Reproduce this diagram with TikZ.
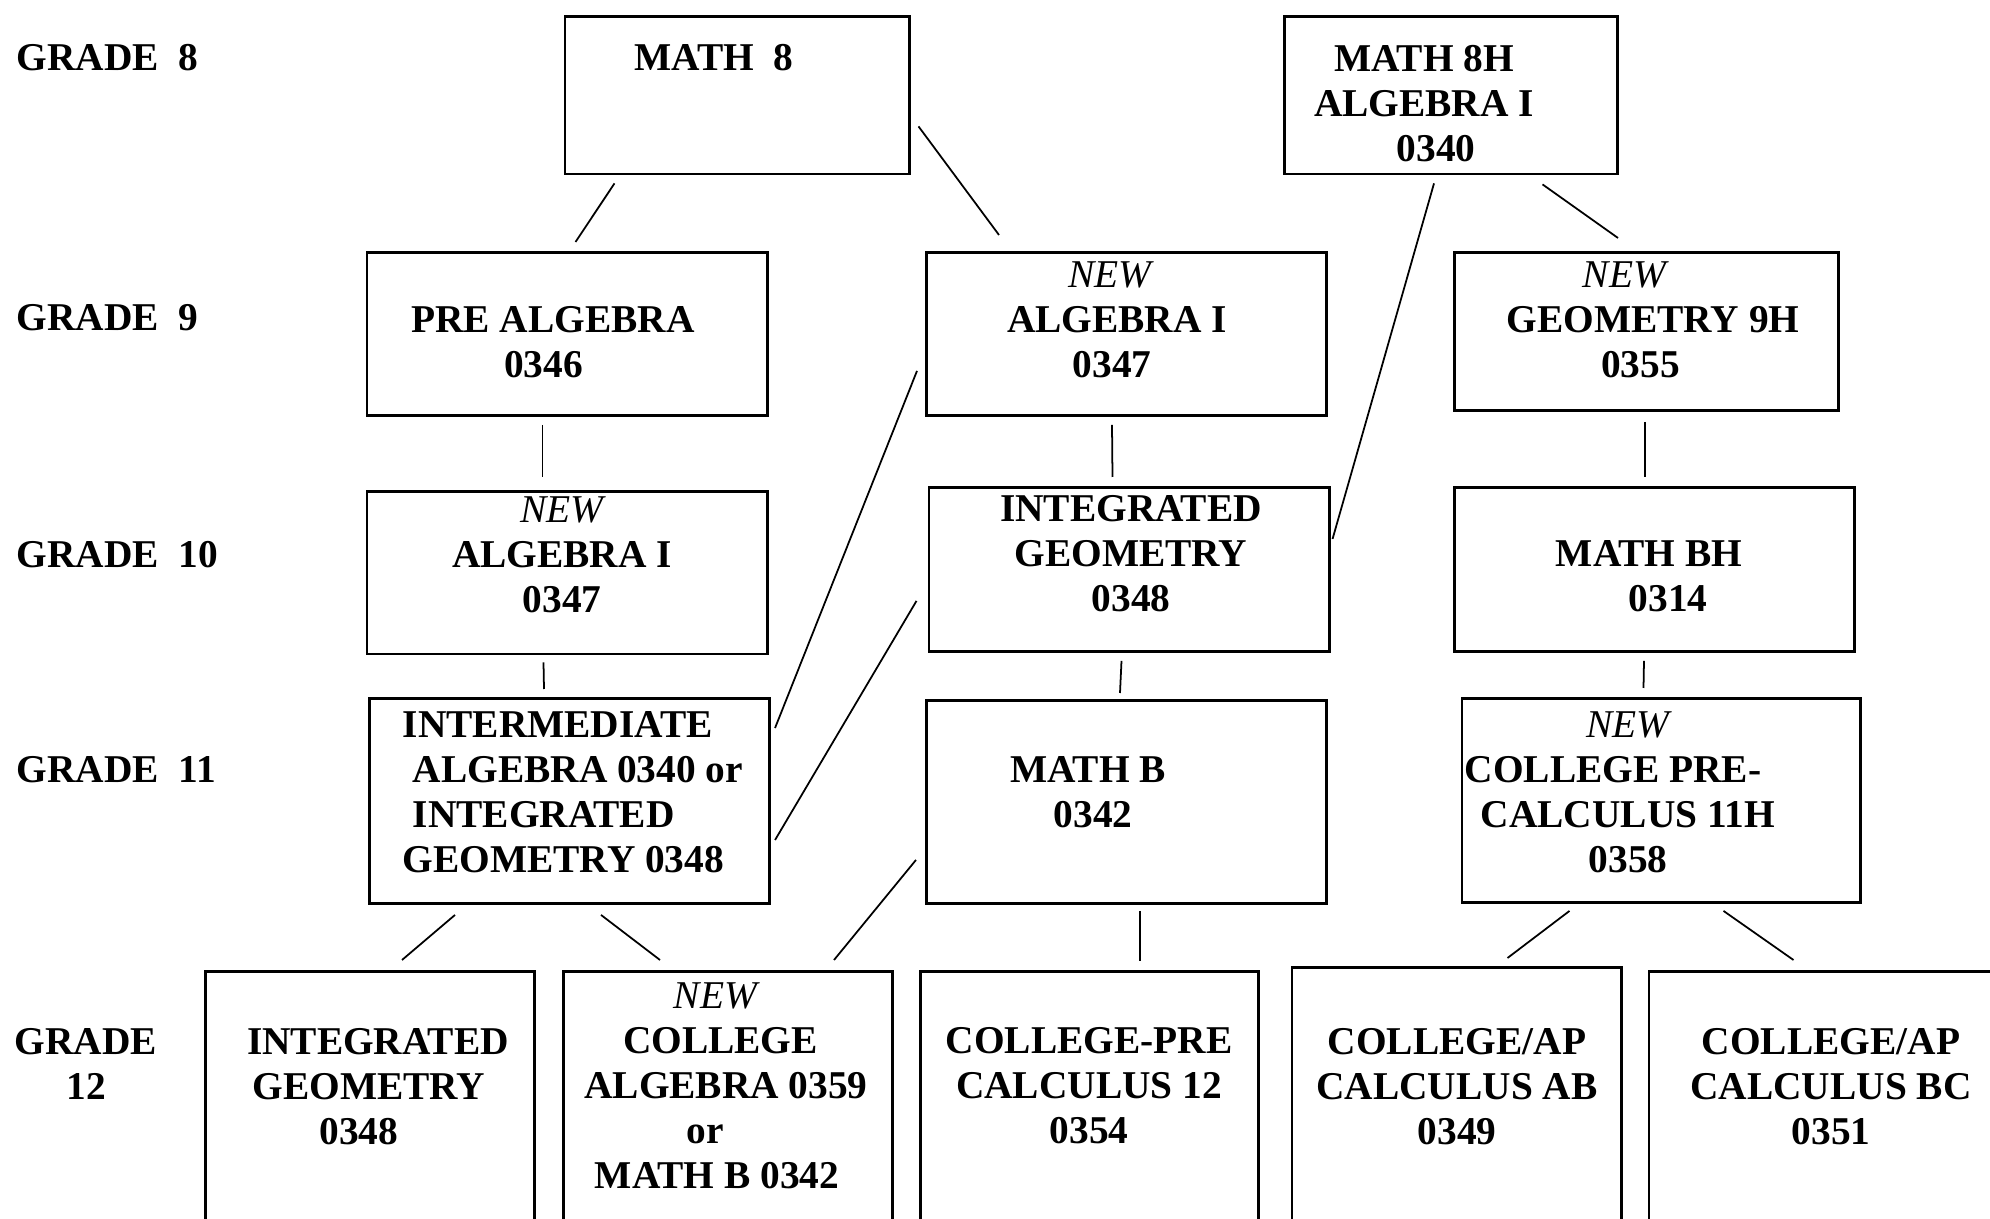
\documentclass[tikz,border=0pt]{standalone}
\usepackage{fontspec}
\setmainfont{Liberation Serif}
\usetikzlibrary{calc}

\begin{document}
\begin{tikzpicture}[
  x=0.01cm, y=-0.01cm,
  course/.style={draw, line width=0.8pt, anchor=north west, inner sep=0pt},
  coursetext/.style={align=center, inner sep=0pt, font=\fontsize{11.2}{12.8}\selectfont\bfseries},
  gradetext/.style={coursetext, align=left, anchor=west},
  link/.style={line width=0.5pt}
]
\useasboundingbox (0,0) rectangle (1990,1219);
\clip (0,0) rectangle (1990,1219);

% grade labels
\node[gradetext] (g8) at (16,58) {GRADE\ \ 8};
\node[gradetext] (g9) at (16,318) {GRADE\ \ 9};
\node[gradetext] (g10) at (16,555) {GRADE\ \ 10};
\node[gradetext] (g11) at (16,770) {GRADE\ \ 11};
\node[coursetext] (g12) at (86,1064) {GRADE\\12};

% course boxes
\node[course, minimum width=3.44cm, minimum height=1.575cm] (m8) at (563.5,15) {};
\node[course, minimum width=3.325cm, minimum height=1.575cm] (m8h) at (1283,15) {};
\node[course, minimum width=4cm, minimum height=1.63cm] (prealg) at (365.5,251) {};
\node[course, minimum width=4cm, minimum height=1.63cm] (algnine) at (925,251) {};
\node[course, minimum width=3.835cm, minimum height=1.58cm] (geonine) at (1453,251) {};
\node[course, minimum width=4cm, minimum height=1.625cm] (algten) at (365.5,490) {};
\node[course, minimum width=4cm, minimum height=1.64cm] (intgeo) at (927.5,486) {};
\node[course, minimum width=4cm, minimum height=1.64cm] (mathbh) at (1453,486) {};
\node[course, minimum width=4cm, minimum height=2.05cm] (inter) at (368,697) {};
\node[course, minimum width=4cm, minimum height=2.03cm] (mathb) at (925,699) {};
\node[course, minimum width=3.985cm, minimum height=2.04cm] (precalc) at (1460.5,697) {};
\node[course, minimum width=3.29cm, minimum height=3cm] (intgeotw) at (204,970) {};
\node[course, minimum width=3.29cm, minimum height=3cm] (collalg) at (562,970) {};
\node[course, minimum width=3.375cm, minimum height=3cm] (precalctw) at (919,970) {};
\node[course, minimum width=3.29cm, minimum height=3cm] (calcab) at (1290.5,966) {};
\node[course, minimum width=4.52cm, minimum height=3cm] (calcbc) at (1647.5,970) {};

% course titles
\node[coursetext] (m8-txt) at (714,58) {MATH\ \ 8};
\node[coursetext] (m8h-txt) at (1424,104) {MATH 8H\\ALGEBRA I\\\hspace*{0.24cm}0340};
\node[coursetext] (prealg-txt) at (553,342) {PRE ALGEBRA\\0346\hspace*{0.19cm}\null};
\node[coursetext] (algnine-txt) at (1117,320) {{\mdseries\itshape NEW}\hspace*{0.14cm}\null\\ALGEBRA I\\0347\hspace*{0.1cm}\null};
\node[coursetext] (geonine-txt) at (1653,320) {{\mdseries\itshape NEW}\hspace*{0.57cm}\null\\GEOMETRY 9H\\0355\hspace*{0.25cm}\null};
\node[coursetext] (algten-txt) at (562,555) {{\mdseries\itshape NEW}\\ALGEBRA I\\0347};
\node[coursetext] (intgeo-txt) at (1131,554) {INTEGRATED\\GEOMETRY\\0348};
\node[coursetext] (mathbh-txt) at (1649,576) {MATH BH\\\hspace*{0.38cm}0314};
\node[coursetext, align=left, anchor=west] (inter-txt) at (402,792) {INTERMEDIATE\\\hspace*{0.1cm}ALGEBRA 0340 or\\\hspace*{0.1cm}INTEGRATED\\GEOMETRY 0348};
\node[coursetext] (mathb-txt) at (1088,792) {MATH B\\\hspace*{0.1cm}0342};
\node[coursetext] (precalc-txt) at (1628,792) {{\mdseries\itshape NEW}\\COLLEGE PRE-\hspace*{0.3cm}\null\\CALCULUS 11H\\0358};
\node[coursetext] (intgeotw-txt) at (378,1087) {INTEGRATED\\GEOMETRY\hspace*{0.18cm}\null\\0348\hspace*{0.38cm}\null};
\node[coursetext] (collalg-txt) at (726,1086) {{\mdseries\itshape NEW}\hspace*{0.21cm}\null\\COLLEGE\hspace*{0.11cm}\null\\ALGEBRA 0359\\or\hspace*{0.41cm}\null\\MATH B 0342\hspace*{0.18cm}\null};
\node[coursetext] (precalctw-txt) at (1089,1086) {COLLEGE-PRE\\CALCULUS 12\\0354};
\node[coursetext] (calcab-txt) at (1457,1087) {COLLEGE/AP\\CALCULUS AB\\0349};
\node[coursetext] (calcbc-txt) at (1831,1087) {COLLEGE/AP\\CALCULUS BC\\0351};

% links
\draw[link] ($(m8.south west)+(51,8)$) -- ($(prealg.north west)+(210,-9)$);
\draw[link] ($(m8.south east)+(8,-49)$) -- ($(algnine.north west)+(74,-16)$);
\draw[link] ($(m8h.south west)+(151,8)$) -- ($(intgeo.north east)+(2,53)$);
\draw[link] ($(m8h.south east)+(-76,9)$) -- ($(geonine.north west)+(165,-13)$);
\draw[link] ($(prealg.south west)+(177,8)$) -- ($(algten.north west)+(177,-13)$);
\draw[link] ($(algnine.south west)+(187,8)$) -- ($(intgeo.north west)+(185,-9)$);
\draw[link] ($(geonine.south west)+(192,10)$) -- ($(mathbh.north west)+(192,-9)$);
\draw[link] ($(algnine.south west)+(-8,-46)$) -- ($(inter.north east)+(4,31)$);
\draw[link] ($(intgeo.south west)+(-11,-52)$) -- ($(inter.north east)+(4,143)$);
\draw[link] ($(algten.south west)+(178,7)$) -- ($(inter.north west)+(176,-8)$);
\draw[link] ($(intgeo.south west)+(194,8)$) -- ($(mathb.north west)+(195,-6)$);
\draw[link] ($(mathbh.south west)+(191,8)$) -- ($(precalc.north west)+(183,-9)$);
\draw[link] ($(inter.south west)+(87,10)$) -- ($(intgeotw.north west)+(198,-10)$);
\draw[link] ($(inter.south west)+(233,10)$) -- ($(collalg.north west)+(98,-10)$);
\draw[link] ($(mathb.south west)+(-9,-45)$) -- ($(collalg.north west)+(272,-10)$);
\draw[link] ($(mathb.south west)+(215,6)$) -- ($(precalctw.north west)+(221,-9)$);
\draw[link] ($(precalc.south west)+(109,7)$) -- ($(calcab.north west)+(217,-8)$);
\draw[link] ($(precalc.south west)+(263,7)$) -- ($(calcbc.north west)+(146,-10)$);

\end{tikzpicture}
\end{document}
